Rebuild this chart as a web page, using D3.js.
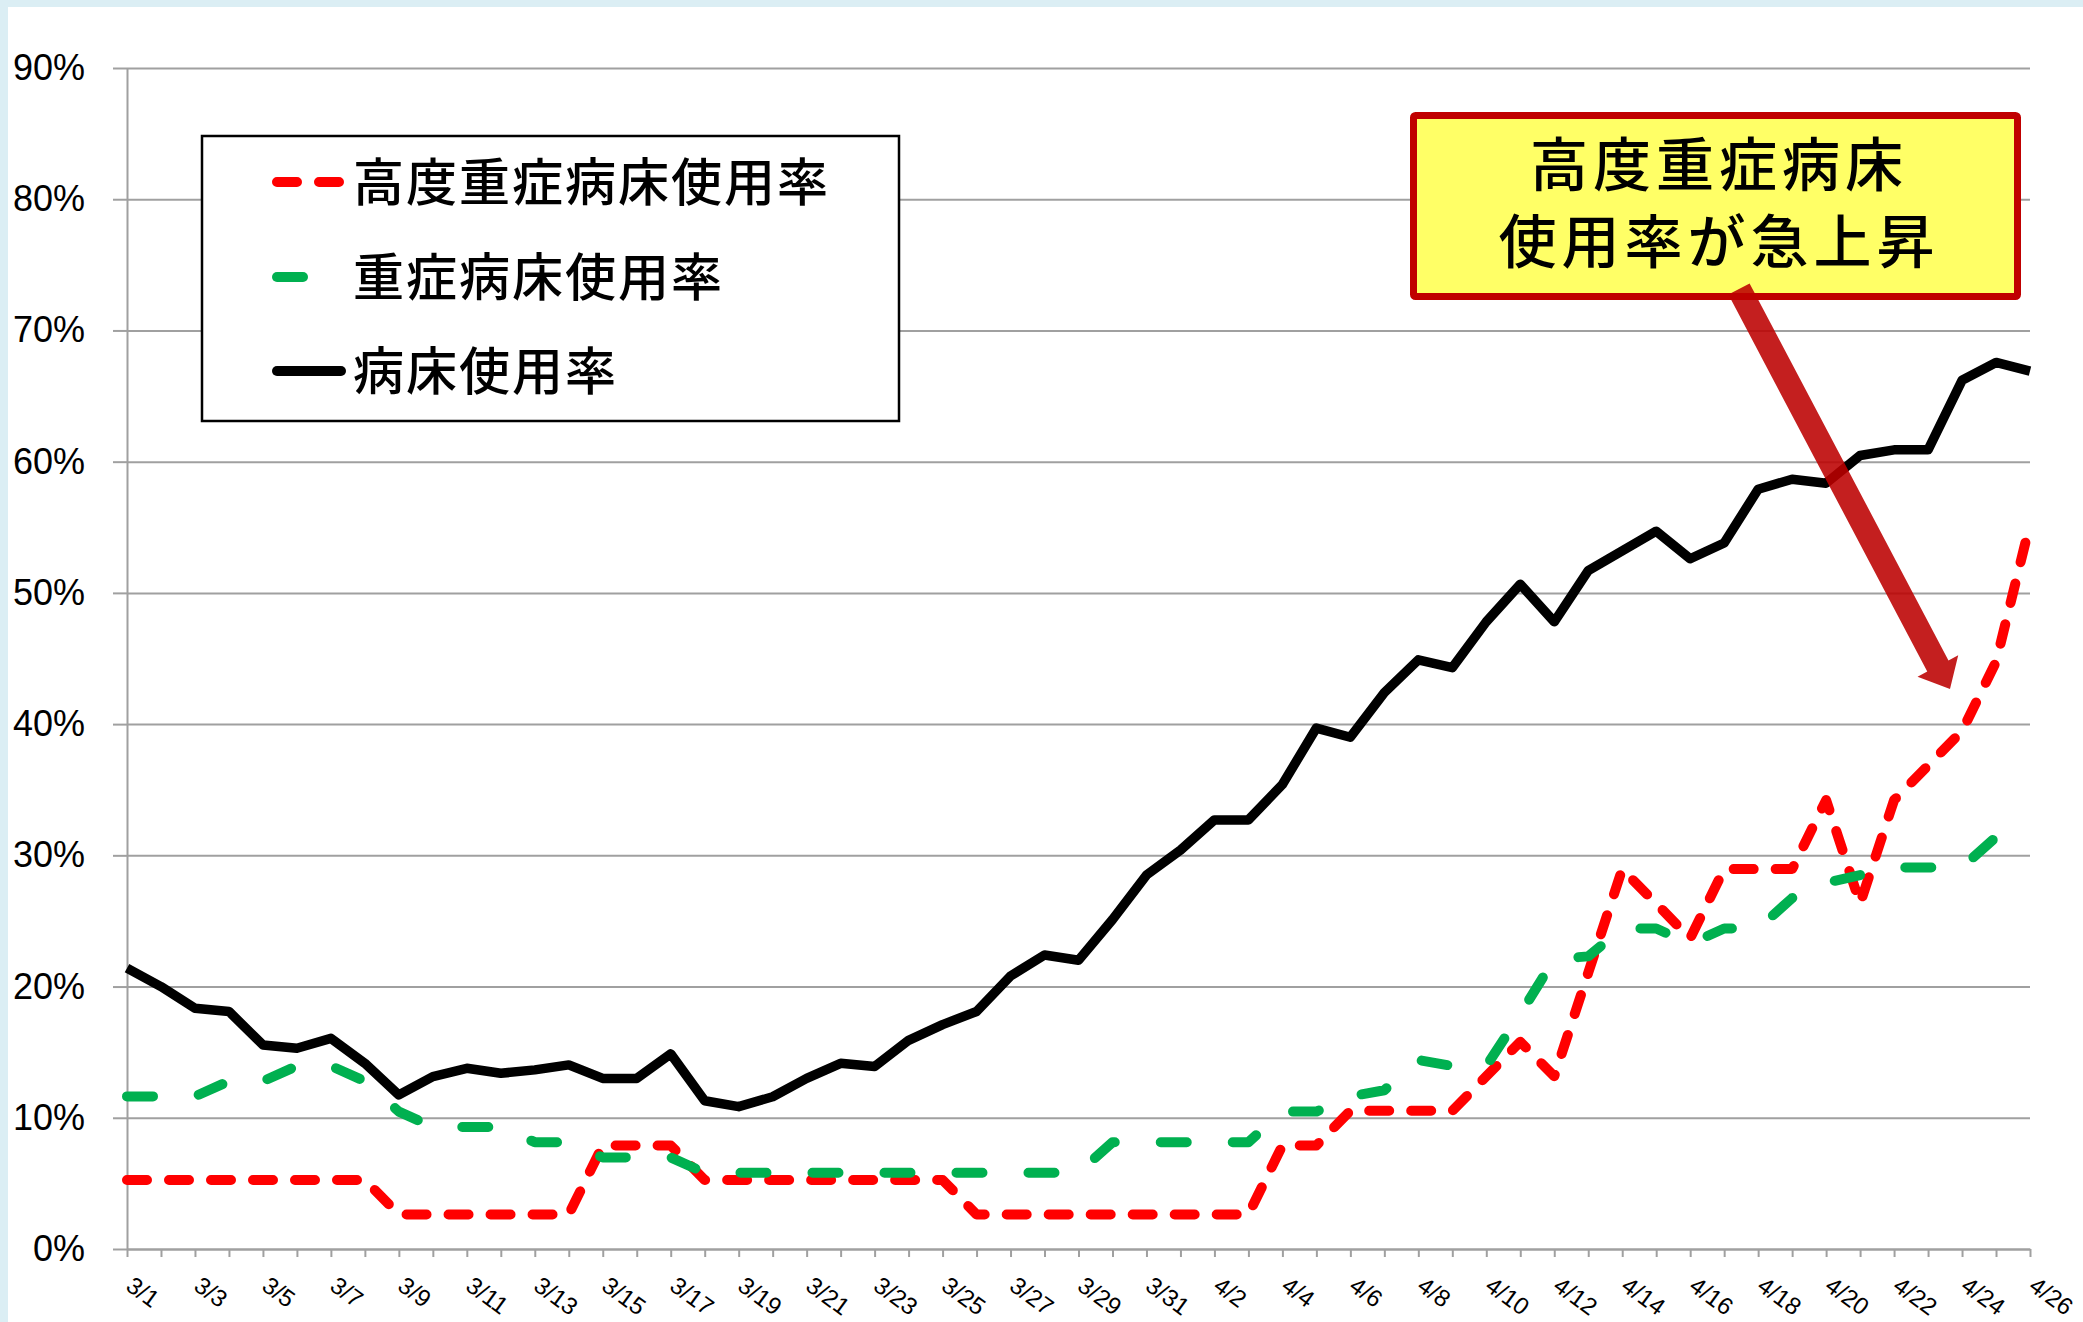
<!DOCTYPE html>
<html>
<head>
<meta charset="utf-8">
<script src="https://cdn.jsdelivr.net/npm/d3@7"></script>
<style>
  body { margin: 0; background: #fff; }
  svg { display: block; }
</style>
</head>
<body>
<div class="chart"></div>
<script>
// categories: one point per day, 3/1 .. 4/26
var dates = ["3/1","3/2","3/3","3/4","3/5","3/6","3/7","3/8","3/9","3/10",
  "3/11","3/12","3/13","3/14","3/15","3/16","3/17","3/18","3/19","3/20",
  "3/21","3/22","3/23","3/24","3/25","3/26","3/27","3/28","3/29","3/30","3/31",
  "4/1","4/2","4/3","4/4","4/5","4/6","4/7","4/8","4/9","4/10",
  "4/11","4/12","4/13","4/14","4/15","4/16","4/17","4/18","4/19","4/20",
  "4/21","4/22","4/23","4/24","4/25","4/26"];

// labelled ticks (every second day)
var tickLabels = ["3/1","3/3","3/5","3/7","3/9","3/11","3/13","3/15","3/17","3/19",
  "3/21","3/23","3/25","3/27","3/29","3/31","4/2","4/4","4/6","4/8","4/10",
  "4/12","4/14","4/16","4/18","4/20","4/22","4/24","4/26"];

var yTicks = [0, 10, 20, 30, 40, 50, 60, 70, 80, 90];

// 高度重症病床使用率 (%)
var severeHigh = [5.26,5.26,5.26,5.26,5.26,5.26,5.26,5.26,2.63,2.63,
  2.63,2.63,2.63,2.63,7.89,7.89,7.89,5.26,5.26,5.26,
  5.26,5.26,5.26,5.26,5.26,2.63,2.63,2.63,2.63,2.63,2.63,
  2.63,2.63,2.63,7.89,7.89,10.53,10.53,10.53,10.53,13.16,
  15.79,13.16,21.05,28.95,26.32,23.68,28.95,28.95,28.95,34.21,
  26.32,34.21,36.84,39.47,44.74,55.26];

// 重症病床使用率 (%)
var severe = [11.63,11.63,11.63,12.79,12.79,13.95,13.95,12.79,10.47,9.30,
  9.30,9.30,8.14,8.14,6.98,6.98,6.98,5.81,5.81,5.81,
  5.81,5.81,5.81,5.81,5.81,5.81,5.81,5.81,5.81,8.14,8.14,
  8.14,8.14,8.14,10.47,10.47,11.63,12.1,14.4,13.95,13.95,
  17.9,22.1,22.3,24.42,24.42,23.26,24.42,24.42,26.74,27.91,
  28.5,29.07,29.07,29.07,31.40,31.40];

// 病床使用率 (%)
var beds = [21.4,20.0,18.35,18.1,15.55,15.3,16.05,14.15,11.74,13.14,
  13.77,13.39,13.65,14.03,13.0,13.0,14.87,11.3,10.85,11.6,
  13.0,14.15,13.9,15.9,17.1,18.1,20.8,22.4,22.0,25.1,28.5,
  30.4,32.7,32.7,35.4,39.7,39.0,42.4,44.9,44.3,47.8,
  50.66,47.8,51.7,53.2,54.7,52.6,53.8,57.9,58.66,58.36,
  60.47,60.9,60.9,66.2,67.56,66.9];

var seriesNames = ["高度重症病床使用率", "重症病床使用率", "病床使用率"];
var calloutLines = ["高度重症病床", "使用率が急上昇"];

var svgWidth = 2083;
var svgHeight = 1322;

var margin = { top: 68, bottom: 73, left: 127, right: 53 };
var width = svgWidth - margin.left - margin.right;
var height = svgHeight - margin.top - margin.bottom;

var gridColor = "#a0a0a0";
var latin = "'Liberation Sans', Arial, sans-serif";
var cjk = "'Noto Sans CJK JP', 'Noto Sans CJK SC', sans-serif";

var redDash = "20 22";
var greenDash = "26 46";

var svg = d3.select(".chart")
  .append("svg")
  .attr("width", svgWidth)
  .attr("height", svgHeight);

// light blue frame (top and left), white chart area
svg.append("rect")
  .attr("width", svgWidth)
  .attr("height", svgHeight)
  .attr("fill", "#dbeef4");
svg.append("rect")
  .attr("x", 8)
  .attr("y", 7)
  .attr("width", svgWidth - 8)
  .attr("height", svgHeight - 7)
  .attr("fill", "#fff");

var chartGroup = svg.append("g")
  .attr("transform", `translate(${margin.left}, ${margin.top})`);

// scales
var xScale = d3.scalePoint().domain(dates).range([0, width]);
var yScale = d3.scaleLinear().domain([0, 90]).range([height, 0]);

// gridlines
var grid = chartGroup.append("g")
  .call(d3.axisLeft(yScale).tickValues(yTicks).tickSize(-width).tickFormat(""));
grid.select(".domain").remove();
grid.selectAll("line").attr("stroke", gridColor).attr("stroke-width", 2);

// y axis
var yAxis = chartGroup.append("g")
  .call(d3.axisLeft(yScale).tickValues(yTicks)
    .tickSizeInner(14).tickSizeOuter(0).tickPadding(28)
    .tickFormat(d => d + "%"));
yAxis.select(".domain").attr("stroke", gridColor).attr("stroke-width", 2);
yAxis.selectAll("line").attr("stroke", gridColor).attr("stroke-width", 2);
yAxis.selectAll("text")
  .attr("font-family", latin)
  .attr("font-size", 36)
  .attr("fill", "#000");

// x axis
var xAxis = chartGroup.append("g")
  .attr("transform", `translate(0, ${height})`)
  .call(d3.axisBottom(xScale).tickSizeInner(8).tickSizeOuter(0)
    .tickFormat(d => tickLabels.indexOf(d) >= 0 ? d : ""));
xAxis.select(".domain").attr("stroke", gridColor).attr("stroke-width", 2);
xAxis.selectAll("line").attr("stroke", gridColor).attr("stroke-width", 2);
xAxis.selectAll("text")
  .attr("x", 0)
  .attr("y", 0)
  .attr("dy", null)
  .attr("transform", "translate(-3, 40) rotate(36)")
  .attr("text-anchor", "start")
  .attr("font-family", latin)
  .attr("font-size", 24)
  .attr("fill", "#000");

// lines
var line = d3.line()
  .x((d, i) => xScale(dates[i]))
  .y(d => yScale(d));

chartGroup.append("path")
  .datum(severeHigh)
  .attr("d", line)
  .attr("fill", "none")
  .attr("stroke", "#ff0000")
  .attr("stroke-width", 10)
  .attr("stroke-dasharray", redDash)
  .attr("stroke-linecap", "round")
  .attr("stroke-linejoin", "round");

chartGroup.append("path")
  .datum(severe)
  .attr("d", line)
  .attr("fill", "none")
  .attr("stroke", "#00b050")
  .attr("stroke-width", 10)
  .attr("stroke-dasharray", greenDash)
  .attr("stroke-linecap", "round")
  .attr("stroke-linejoin", "round");

chartGroup.append("path")
  .datum(beds)
  .attr("d", line)
  .attr("fill", "none")
  .attr("stroke", "#000")
  .attr("stroke-width", 9.5)
  .attr("stroke-linejoin", "round");

// legend
var legend = svg.append("g");
legend.append("rect")
  .attr("x", 202)
  .attr("y", 136)
  .attr("width", 697)
  .attr("height", 285)
  .attr("fill", "#fff")
  .attr("stroke", "#000")
  .attr("stroke-width", 2.5);

var legendRows = [
  { y: 182, color: "#ff0000", dash: redDash, x2: 339 },
  { y: 277, color: "#00b050", dash: greenDash, x2: 307 },
  { y: 371, color: "#000", dash: null, x2: 341 }
];
legendRows.forEach(function(row, i) {
  legend.append("line")
    .attr("x1", 277).attr("x2", row.x2)
    .attr("y1", row.y).attr("y2", row.y)
    .attr("stroke", row.color)
    .attr("stroke-width", 10)
    .attr("stroke-linecap", "round")
    .attr("stroke-dasharray", row.dash);
  legend.append("text")
    .attr("x", 353)
    .attr("y", row.y + 19)
    .attr("font-family", cjk)
    .attr("font-size", 51)
    .attr("font-weight", 500)
    .attr("letter-spacing", 2)
    .attr("fill", "#000")
    .text(seriesNames[i]);
});

// callout
var callout = svg.append("g");
callout.append("rect")
  .attr("x", 1413.5)
  .attr("y", 115.5)
  .attr("width", 604)
  .attr("height", 181)
  .attr("rx", 2)
  .attr("fill", "#ffff66")
  .attr("stroke", "#c00000")
  .attr("stroke-width", 7);
callout.selectAll("text.call")
  .data(calloutLines)
  .enter()
  .append("text")
  .attr("class", "call")
  .attr("x", 1719)
  .attr("y", (d, i) => 186 + i * 77)
  .attr("text-anchor", "middle")
  .attr("font-family", cjk)
  .attr("font-size", 58)
  .attr("font-weight", 500)
  .attr("letter-spacing", 5)
  .attr("fill", "#000")
  .text(d => d);

// arrow from the callout to the rising red line
var ax0 = 1739, ay0 = 289, ax1 = 1950, ay1 = 689;
var len = Math.hypot(ax1 - ax0, ay1 - ay0);
var ux = (ax1 - ax0) / len, uy = (ay1 - ay0) / len;
var nx = -uy, ny = ux;
var sw = 12, hw = 23, hl = 26;
var bx = ax1 - ux * hl, by = ay1 - uy * hl;
var pts = [
  [ax0 + nx * sw, ay0 + ny * sw],
  [bx + nx * sw, by + ny * sw],
  [bx + nx * hw, by + ny * hw],
  [ax1, ay1],
  [bx - nx * hw, by - ny * hw],
  [bx - nx * sw, by - ny * sw],
  [ax0 - nx * sw, ay0 - ny * sw]
];
svg.append("path")
  .attr("d", "M" + pts.map(p => p.join(",")).join("L") + "Z")
  .attr("fill", "#bc0000")
  .attr("fill-opacity", 0.88);
</script>
</body>
</html>
